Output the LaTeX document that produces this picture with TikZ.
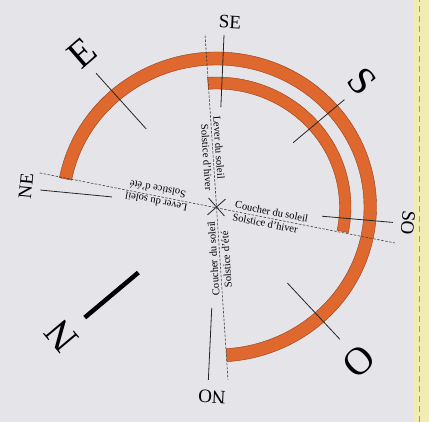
\documentclass[tikz,border=0pt]{standalone}
\usepackage{fontspec}
\setmainfont{Liberation Serif}
\usetikzlibrary{calc}
\definecolor{bgc}{RGB}{229,229,233}
\definecolor{bandc}{RGB}{222,104,46}
\definecolor{bandedge}{RGB}{150,62,28}
\definecolor{stripc}{RGB}{240,236,180}
\begin{document}
\begin{tikzpicture}[x=1pt,y=1pt,
  tick/.style={line width=0.8pt, black!85},
  heavytick/.style={line width=4.5pt, black},
  guide/.style={line width=0.6pt, black!75, dash pattern=on 2.5pt off 1.5pt},
  band/.style={fill=bandc, draw=bandedge, line width=0.4pt},
  bigletter/.style={font=\fontsize{39}{41}\selectfont, inner sep=0pt},
  dirlabel/.style={font=\fontsize{19}{21}\selectfont, inner sep=0pt},
  note/.style={font=\fontsize{10.5}{12}\selectfont, inner sep=0.5pt, transform shape},
]
\fill[bgc] (0,0) rectangle (429,422);
\useasboundingbox (0,0) rectangle (429,422);
\fill[stripc] (413,0) rectangle (429,422);
\draw[black!40, dash pattern=on 6pt off 4pt, line width=0.6pt] (419,0) -- (419,422);

\coordinate (C) at (216.5,215);

% orange bands
\path[band] ($(C)+(169.1:160 and 155)$)
  arc[start angle=169.1, end angle=-86.2, x radius=160, y radius=155]
  -- ($(C)+(-86.2:147.5 and 142)$)
  arc[start angle=-86.2, end angle=169.1, x radius=147.5, y radius=142] -- cycle;
\path[band] ($(C)+(93.8:134.5 and 130)$)
  arc[start angle=93.8, end angle=-11.4, x radius=134.5, y radius=130]
  -- ($(C)+(-11.4:123 and 118)$)
  arc[start angle=-11.4, end angle=93.8, x radius=123, y radius=118] -- cycle;

% dashed solstice lines
\coordinate (gNE) at ($(C)+(169.1:180)$);
\coordinate (gSO) at ($(C)+(-11.4:182)$);
\coordinate (gSE) at ($(C)+(93.8:172)$);
\coordinate (gNO) at ($(C)+(-86.2:173)$);
\draw[guide] (gNE) -- (gSO);
\draw[guide] (gSE) -- (gNO);

% centre cross
\coordinate (x1) at ($(C)+(41.2:12)$);
\coordinate (x2) at ($(C)+(221.2:12)$);
\coordinate (x3) at ($(C)+(131.4:12)$);
\coordinate (x4) at ($(C)+(311.4:12)$);
\draw[tick] (x1) -- (x2);
\draw[tick] (x3) -- (x4);

% compass ticks
\coordinate (tEa) at ($(C)+(132:105)$);   \coordinate (tEb) at ($(C)+(132:180)$);
\coordinate (tSEa) at ($(C)+(87.5:100)$); \coordinate (tSEb) at ($(C)+(87.5:172)$);
\coordinate (tSa) at ($(C)+(40:100)$);    \coordinate (tSb) at ($(C)+(40:167)$);
\coordinate (tSOa) at ($(C)+(-5:106)$);   \coordinate (tSOb) at ($(C)+(-5:177)$);
\coordinate (tOa) at ($(C)+(-47:104)$);   \coordinate (tOb) at ($(C)+(-47:181)$);
\coordinate (tNOa) at ($(C)+(-92.7:101)$);\coordinate (tNOb) at ($(C)+(-92.7:173)$);
\coordinate (tNEa) at ($(C)+(174.5:105)$);\coordinate (tNEb) at ($(C)+(174.5:177)$);
\coordinate (tNa) at ($(C)+(-140:102)$);  \coordinate (tNb) at ($(C)+(-140:172)$);
\draw[tick] (tEa) -- (tEb);
\draw[tick] (tSEa) -- (tSEb);
\draw[tick] (tSa) -- (tSb);
\draw[tick] (tSOa) -- (tSOb);
\draw[tick] (tOa) -- (tOb);
\draw[tick] (tNOa) -- (tNOb);
\draw[tick] (tNEa) -- (tNEb);
\draw[heavytick] (tNa) -- (tNb);

% notes along the solstice lines
\begin{scope}[shift={(C)}, rotate=-11.4]
  \node[note, anchor=south] (cs1) at (55,2) {Coucher du soleil};
  \node[note, anchor=north] (sh1) at (51,-2) {Solstice d'hiver};
\end{scope}
\begin{scope}[shift={(C)}, rotate=169.1]
  \node[note, anchor=south] (ls1) at (60,2) {Lever du soleil};
  \node[note, anchor=north] (se1) at (61,-2) {Solstice d'été};
\end{scope}
\begin{scope}[shift={(C)}, rotate=-86.2]
  \node[note, anchor=south] (ls2) at (-59,2) {Lever du soleil};
  \node[note, anchor=north] (sh2) at (-50,-2) {Solstice d'hiver};
\end{scope}
\begin{scope}[shift={(C)}, rotate=93.8]
  \node[note, anchor=south] (cs2) at (-51,2) {Coucher du soleil};
  \node[note, anchor=north] (se2) at (-53,-2) {Solstice d'été};
\end{scope}

% compass letters
\node[bigletter, rotate=41] (lE) at (82,369) {E};
\node[bigletter, rotate=-49] (lS) at (362,341) {S};
\node[bigletter, rotate=-137] (lO) at (359,61) {O};
\node[bigletter, rotate=130] (lN) at (62,86) {N};
\node[dirlabel, rotate=-3] (lSE) at (230,400) {SE};
\node[dirlabel, rotate=84.5] (lNE) at (26,236) {NE};
\node[dirlabel, rotate=-95] (lSO) at (408,199) {SO};
\node[dirlabel, rotate=-182.7] (lNO) at (212,25) {NO};
\end{tikzpicture}
\end{document}
